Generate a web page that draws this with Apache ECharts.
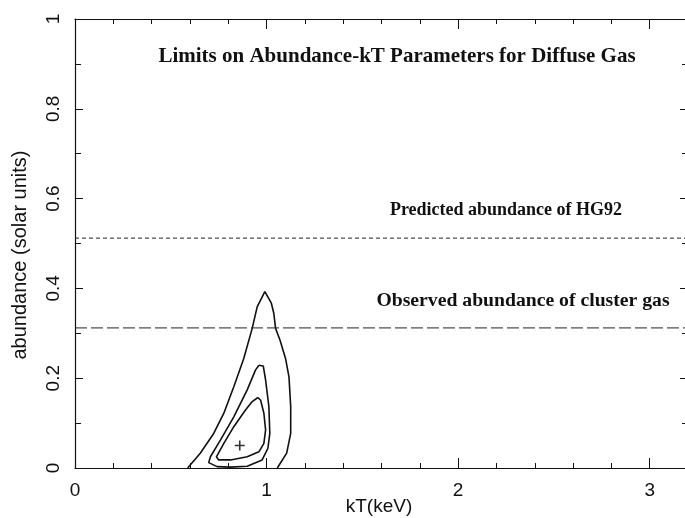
<!DOCTYPE html>
<html><head><meta charset="utf-8">
<script src="https://cdn.jsdelivr.net/npm/echarts@6/dist/echarts.min.js"></script>
<style>html,body{margin:0;padding:0;background:#fff}#c{width:685px;height:518px}</style>
</head><body><div id="c"></div>
<script>
// ---- data ----
const outerContour = [[0.588,0],[0.654,0.033],[0.724,0.077],[0.777,0.122],[0.829,0.181],[0.881,0.244],[0.925,0.311],[0.951,0.359],[0.991,0.393],[1.025,0.367],[1.038,0.344],[1.047,0.311],[1.070,0.285],[1.099,0.244],[1.117,0.203],[1.126,0.137],[1.126,0.077],[1.105,0.033],[1.056,0]];
const middleContour = [[0.960,0.229],[0.983,0.227],[0.995,0.196],[1.012,0.137],[1.017,0.077],[1.007,0.044],[0.977,0.018],[0.899,0.004],[0.812,0.002],[0.742,0.003],[0.698,0.012],[0.707,0.025],[0.759,0.062],[0.829,0.114],[0.899,0.174],[0.942,0.218],[0.960,0.229]];
const innerContour = [[0.955,0.157],[0.969,0.151],[0.986,0.122],[0.995,0.085],[0.986,0.055],[0.960,0.036],[0.899,0.025],[0.812,0.018],[0.750,0.018],[0.738,0.025],[0.777,0.055],[0.829,0.092],[0.890,0.129],[0.925,0.148],[0.955,0.157]];
const bestFit = [[0.860,0.050]];
const predictedAbundance = 0.512;   // HG92
const observedAbundance = 0.312;    // cluster gas
const kTRange = [0, 3.2];
const abundanceRange = [0, 1];
const titleText = 'Limits on Abundance-kT Parameters for Diffuse Gas';
const predictedLabel = 'Predicted abundance of HG92';
const observedLabel = 'Observed abundance of cluster gas';
const xName = 'kT(keV)';
const yName = 'abundance (solar units)';

// ---- chart ----
const chart = echarts.init(document.getElementById('c'), null, {renderer: 'canvas'});
const ink = '#111';
const axisLineStyle = {color: ink, width: 1.2};
const sans = 'Liberation Sans';

function xAx(pos, interval, tickLen, showLine, labels) {
  return {
    type: 'value', position: pos, min: kTRange[0], max: kTRange[1], interval: interval,
    axisLine: {show: showLine, onZero: false, lineStyle: axisLineStyle},
    axisTick: {show: true, inside: true, length: tickLen, lineStyle: {color: ink, width: 1}},
    axisLabel: labels ? {show: true, color: ink, fontFamily: sans, fontSize: 19, margin: 13,
      formatter: v => (Math.abs(v - Math.round(v)) < 1e-9 ? String(Math.round(v)) : '')} : {show: false},
    splitLine: {show: false}
  };
}
function yAx(pos, labels) {
  return {
    type: 'value', position: pos, min: abundanceRange[0], max: abundanceRange[1], interval: 0.2,
    axisLine: {show: true, onZero: false, lineStyle: axisLineStyle},
    axisTick: {show: true, inside: true, length: 8, lineStyle: {color: ink, width: 1}},
    minorTick: {show: true, splitNumber: 2, length: 6, lineStyle: {color: ink, width: 1}},
    axisLabel: labels ? {show: true, rotate: 90, color: ink, fontFamily: sans, fontSize: 19, margin: 12} : {show: false},
    splitLine: {show: false}
  };
}

const contourStyle = {color: ink, width: 1.6};
function contour(data) {
  return {type: 'line', data: data, showSymbol: false, symbol: 'none', smooth: false,
    lineStyle: contourStyle, silent: true, clip: false, z: 3};
}

chart.setOption({
  animation: false,
  backgroundColor: '#fff',
  grid: {left: 75, top: 19, right: -3, bottom: 50, containLabel: false, outerBoundsMode: 'none'},
  xAxis: [
    xAx('bottom', 0.2, 5, true, false),
    xAx('bottom', 1, 10, false, true),
    xAx('top', 0.2, 5, true, false),
    xAx('top', 1, 10, false, false)
  ],
  yAxis: [yAx('left', true), yAx('right', false)],
  series: [
    contour(outerContour),
    contour(middleContour),
    contour(innerContour),
    {type: 'scatter', data: bestFit, symbol: 'path://M0,4.2H10V5.8H0Z M4.2,0H5.8V10H4.2Z',
      symbolSize: 10, itemStyle: {color: '#000'}, silent: true, z: 4},
    {type: 'line', data: [[kTRange[0], predictedAbundance], [kTRange[1], predictedAbundance]],
      showSymbol: false, symbol: 'none', lineStyle: {color: '#222', width: 1, type: [4, 3]}, silent: true},
    {type: 'line', data: [[kTRange[0], observedAbundance], [kTRange[1], observedAbundance]],
      showSymbol: false, symbol: 'none', lineStyle: {color: '#222', width: 1, type: [12, 4]}, silent: true}
  ],
  graphic: [
    {type: 'text', x: 397, y: 57, style: {text: titleText, font: 'bold 21px "Liberation Serif"', fill: ink, textAlign: 'center', textVerticalAlign: 'middle'}},
    {type: 'text', x: 506, y: 210, style: {text: predictedLabel, font: 'bold 18px "Liberation Serif"', fill: ink, textAlign: 'center', textVerticalAlign: 'middle'}},
    {type: 'text', x: 523, y: 301, style: {text: observedLabel, font: 'bold 19.7px "Liberation Serif"', fill: ink, textAlign: 'center', textVerticalAlign: 'middle'}},
    {type: 'text', x: 20, y: 255, rotation: Math.PI / 2, style: {text: yName, font: '20px "Liberation Sans"', fill: ink, textAlign: 'center', textVerticalAlign: 'middle'}},
    {type: 'text', x: 379, y: 507, style: {text: xName, font: '19px "Liberation Sans"', fill: ink, textAlign: 'center', textVerticalAlign: 'middle'}}
  ]
});
</script></body></html>
